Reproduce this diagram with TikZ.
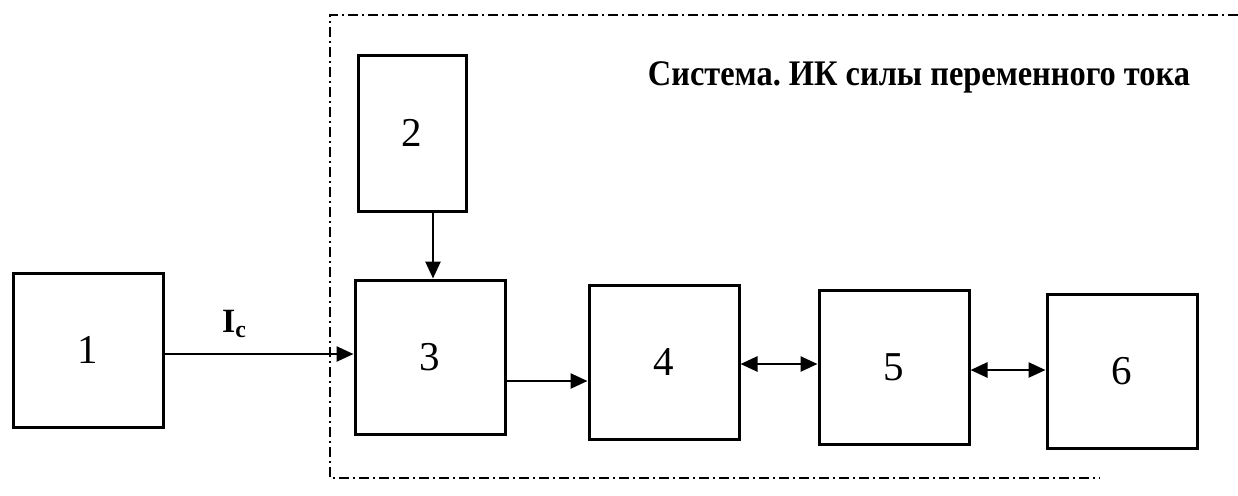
\documentclass[tikz,border=0pt]{standalone}
\usepackage{fontspec}
\setmainfont{Liberation Serif}
\usetikzlibrary{arrows.meta}
\frenchspacing
\begin{document}
\begin{tikzpicture}[x=0.5pt,y=-0.5pt,
  blk/.style={draw, line width=1.5pt, minimum width=75pt, minimum height=77pt, inner sep=0pt, font=\fontsize{20.5}{22}\selectfont},
  conn/.style={line width=1.3pt, -{Triangle[length=8.5pt,width=7.5pt]}},
  bconn/.style={line width=1.3pt, {Triangle[length=8.5pt,width=7.5pt]}-{Triangle[length=8.5pt,width=7.5pt]}},
  frame/.style={line width=1pt, dash pattern=on 5pt off 2pt on 1pt off 2pt}]
\useasboundingbox (0,0) rectangle (1238,495);
\node[blk] (b1) at (88,350) {1};
\node[blk, minimum width=54pt, minimum height=78pt] (b2) at (412,133) {2};
\node[blk] (b3) at (430,357) {3};
\node[blk] (b4) at (664,362) {4};
\node[blk] (b5) at (894,367) {5};
\node[blk] (b6) at (1122,371) {6};
\draw[frame] (1238,15) -- (330,15) -- (330,478) -- (1100,478);
\node[font=\bfseries\fontsize{18}{20}\selectfont, anchor=center] (title) at (919,77) {\scalebox{0.9}[1]{Система. ИК силы переменного тока}};
\draw[conn] (b1.east |- 0,354) coordinate (s1) -- (b3.west |- s1) node[pos=0.37, above=4pt, font=\bfseries\fontsize{17}{19}\selectfont] (lab) {I\textsubscript{c}};
\draw[conn] (b2.south -| 433,0) -- (b3.north -| 433,0);
\draw[conn] (b3.east |- 0,381) -- (b4.west |- 0,381);
\draw[bconn] (b4.east |- 0,364) -- (b5.west |- 0,364);
\draw[bconn] (b5.east |- 0,370) -- (b6.west |- 0,370);
\end{tikzpicture}
\end{document}
